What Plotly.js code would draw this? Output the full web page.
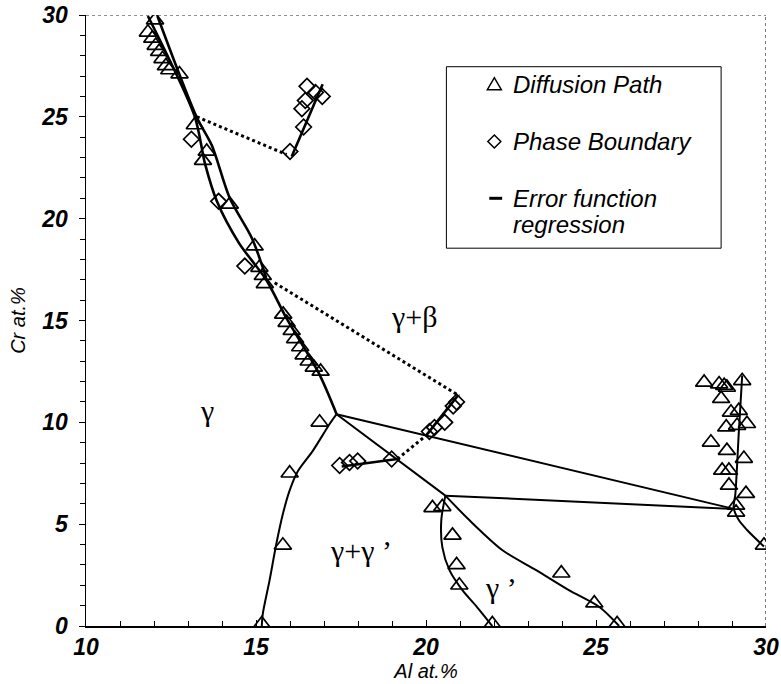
<!DOCTYPE html>
<html>
<head>
<meta charset="utf-8">
<script src="https://cdn.plot.ly/plotly-3.0.1.min.js"></script>
<style>html,body{margin:0;padding:0;background:#fff}</style>
</head>
<body>
<div id="chart" style="width:781px;height:684px"></div>
<script>
// ---- Diffusion path measurements (triangles) ----
const pathAl = [12.03, 11.82, 11.95, 12.05, 12.15, 12.25, 12.35, 12.45, 12.75,
  13.2, 13.55, 13.44, 14.23, 14.96, 15.1, 15.2, 15.26,
  15.8, 15.9, 16.05, 16.15, 16.3, 16.4, 16.55, 16.7, 16.9,
  16.87, 15.99, 15.79, 15.17,
  20.19, 20.48, 20.78, 20.9, 20.98, 21.95,
  23.98, 24.95, 25.62,
  28.18, 28.62, 28.77, 28.85, 29.3, 28.68, 28.97, 29.2, 28.83, 29.15, 29.44,
  28.38, 28.85, 29.35, 28.71, 28.91, 28.91, 29.41, 29.12, 29.12, 29.94];
const pathCr = [29.75, 29.15, 28.85, 28.5, 28.2, 27.85, 27.5, 27.3, 27.1,
  24.6, 23.3, 22.85, 20.7, 18.65, 17.6, 17.2, 16.8,
  15.3, 14.9, 14.5, 14.1, 13.7, 13.3, 13.0, 12.7, 12.5,
  10.0, 7.5, 3.96, 0.1,
  5.8, 5.85, 4.45, 3.0, 2.0, 0.1,
  2.59, 1.12, 0.1,
  11.96, 11.88, 11.8, 11.71, 12.04, 11.16, 10.49, 10.57, 9.76, 9.84, 9.93,
  9.02, 8.61, 8.22, 7.64, 7.64, 6.9, 6.5, 5.92, 5.58, 3.96];

// ---- Phase boundary measurements (diamonds) ----
const boundAl = [13.1, 13.9, 14.67,
  16.0, 16.4, 16.35, 16.45, 16.5, 16.75, 16.95,
  20.1, 20.25, 20.55, 20.8, 20.9,
  17.46, 17.75, 17.99, 18.99];
const boundCr = [23.9, 20.85, 17.67,
  23.3, 24.5, 25.4, 25.8, 26.5, 26.2, 26.0,
  9.55, 9.75, 10.0, 10.8, 11.0,
  7.88, 8.03, 8.1, 8.2];

// ---- Error function regression / phase boundary lines ----
const regAAl = [11.82, 13.2, 13.5, 13.85, 14.5, 15.3, 15.9, 16.85, 17.37];
const regACr = [29.95, 25.0, 22.7, 20.85, 18.8, 17.0, 15.1, 12.4, 10.4];
const regBAl = [12.1, 13.25, 13.7, 14.23, 14.88, 15.3];
const regBCr = [29.95, 25.0, 23.6, 21.0, 19.04, 17.1];
const gammaAl = [17.37, 17.17, 16.67, 16.23, 15.99, 15.79, 15.6, 15.4, 15.2, 15.17];
const gammaCr = [10.4, 9.93, 8.6, 7.6, 6.66, 5.5, 4.05, 2.25, 0.6, 0.0];
const tie1Al = [17.37, 29.05];
const tie1Cr = [10.4, 5.75];
const branchAl = [17.37, 20.57];
const branchCr = [10.4, 6.4];
const tie2Al = [20.57, 29.05];
const tie2Cr = [6.4, 5.75];
const gpAAl = [20.57, 20.45, 20.48, 20.69, 21.07, 21.5, 21.95];
const gpACr = [6.4, 5.2, 3.87, 2.74, 1.76, 0.93, 0.0];
const gpBAl = [20.57, 21.28, 22.25, 23.24, 24.2, 25.1, 25.68];
const gpBCr = [6.4, 5.19, 3.72, 2.74, 1.76, 0.93, 0.0];
const rightAl = [29.3, 29.2, 29.1, 29.05, 29.2, 29.45, 29.94];
const rightCr = [12.3, 9.5, 6.5, 5.8, 5.2, 4.7, 3.9];
const seg1Al = [16.05, 16.96];
const seg1Cr = [23.05, 26.6];
const seg2Al = [17.52, 19.16];
const seg2Cr = [7.83, 8.2];
const seg3Al = [20.0, 20.93];
const seg3Cr = [9.35, 11.3];
// ---- dotted connections ----
const dot1Al = [13.26, 15.9];
const dot1Cr = [25.0, 23.15];
const dot2Al = [15.55, 20.98];
const dot2Cr = [16.85, 11.3];
const dot3Al = [19.16, 20.0];
const dot3Cr = [8.2, 9.35];

// ---- tick labels ----
const xTicks = [10, 15, 20, 25, 30];
const yTicks = [0, 5, 10, 15, 20, 25, 30];

function line(x, y, w, shape, dash) {
  return {type: 'scatter', mode: 'lines', x: x, y: y, showlegend: false, hoverinfo: 'skip',
    line: {color: '#000', width: w, shape: shape || 'linear', smoothing: 0.8, dash: dash || 'solid'}};
}

const traces = [
  line(regAAl, regACr, 2.6, 'spline'),
  line(regBAl, regBCr, 2.6, 'spline'),
  line(gammaAl, gammaCr, 2, 'spline'),
  line(tie1Al, tie1Cr, 2),
  line(branchAl, branchCr, 2),
  line(tie2Al, tie2Cr, 2),
  line(gpAAl, gpACr, 2, 'spline'),
  line(gpBAl, gpBCr, 2, 'spline'),
  line(rightAl, rightCr, 2, 'spline'),
  line(seg1Al, seg1Cr, 2.6),
  line(seg2Al, seg2Cr, 2.6),
  line(seg3Al, seg3Cr, 2.6),
  line(dot1Al, dot1Cr, 3, 'linear', 'dot'),
  line(dot2Al, dot2Cr, 3, 'linear', 'dot'),
  line(dot3Al, dot3Cr, 3, 'linear', 'dot'),
  {type: 'scatter', mode: 'markers', x: pathAl, y: pathCr, showlegend: false,
    marker: {symbol: 'triangle-up-open', size: 15, color: '#000', line: {width: 1.7, color: '#000'}}},
  {type: 'scatter', mode: 'markers', x: boundAl, y: boundCr, showlegend: false,
    marker: {symbol: 'diamond-open', size: 12, color: '#000', line: {width: 1.7, color: '#000'}}}
];

const tickFont = {family: 'Liberation Sans, Arial, sans-serif', size: 23, weight: 'bold', style: 'italic', color: '#000'};
const titleFont = {family: 'Liberation Sans, Arial, sans-serif', size: 20, style: 'italic', color: '#000'};
const legFont = {family: 'Liberation Sans, Arial, sans-serif', size: 24, style: 'italic', color: '#000'};
const greekFont = {family: 'Liberation Serif, Times New Roman, serif', size: 30, color: '#000'};

const layout = {
  width: 781, height: 684,
  margin: {l: 86, r: 15, t: 15, b: 58},
  paper_bgcolor: '#fff', plot_bgcolor: '#fff',
  showlegend: false,
  xaxis: {range: [10, 30], tickvals: xTicks, ticktext: xTicks.map(String), showgrid: false, zeroline: false,
    showline: true, linecolor: '#000', linewidth: 1.5, ticks: 'inside', ticklen: 6, tickwidth: 1, tickcolor: '#000',
    minor: {dtick: 1, tick0: 10, ticks: 'inside', ticklen: 5, tickcolor: '#000', showgrid: false},
    tickfont: tickFont, fixedrange: true, ticklabelstandoff: 0,
    title: {text: 'Al at.%', font: titleFont, standoff: 0}},
  yaxis: {range: [0, 30], tickvals: yTicks, ticktext: yTicks.map(String), showgrid: false, zeroline: false,
    showline: true, linecolor: '#000', linewidth: 1.5, ticks: 'outside', ticklen: 6, tickwidth: 1, tickcolor: '#000',
    minor: {dtick: 1, tick0: 0, ticks: 'outside', ticklen: 5, tickcolor: '#000', showgrid: false},
    tickfont: tickFont, fixedrange: true, ticklabelstandoff: 6,
    title: {text: 'Cr at.%', font: titleFont, standoff: 10}},
  shapes: [
    {type: 'line', xref: 'x', yref: 'y', x0: 10, x1: 30, y0: 30, y1: 30, line: {color: '#222', width: 1.2, dash: 'dot'}},
    {type: 'line', xref: 'x', yref: 'y', x0: 30, x1: 30, y0: 0, y1: 30, line: {color: '#222', width: 1.2, dash: 'dot'}},
    {type: 'rect', xref: 'x', yref: 'y', x0: 20.6, x1: 28.68, y0: 18.55, y1: 27.46, line: {color: '#000', width: 1}, fillcolor: 'rgba(0,0,0,0)'},
    {type: 'path', xref: 'x', yref: 'y', xsizemode: 'pixel', ysizemode: 'pixel', xanchor: 22.01, yanchor: 26.58,
      path: 'M-7,-5 L7,-5 L0,7 Z', line: {color: '#000', width: 1.5}},
    {type: 'path', xref: 'x', yref: 'y', xsizemode: 'pixel', ysizemode: 'pixel', xanchor: 22.01, yanchor: 23.79,
      path: 'M-6.5,0 L0,6.5 L6.5,0 L0,-6.5 Z', line: {color: '#000', width: 1.5}},
    {type: 'line', xref: 'x', yref: 'y', x0: 21.86, x1: 22.24, y0: 21.0, y1: 21.0, line: {color: '#000', width: 3}}
  ],
  annotations: [
    {x: 22.51, y: 26.58, xref: 'x', yref: 'y', text: 'Diffusion Path', showarrow: false, xanchor: 'left', yanchor: 'middle', font: legFont},
    {x: 22.51, y: 23.79, xref: 'x', yref: 'y', text: 'Phase Boundary', showarrow: false, xanchor: 'left', yanchor: 'middle', font: legFont},
    {x: 22.51, y: 21.0, xref: 'x', yref: 'y', text: 'Error function', showarrow: false, xanchor: 'left', yanchor: 'middle', font: legFont},
    {x: 22.51, y: 19.73, xref: 'x', yref: 'y', text: 'regression', showarrow: false, xanchor: 'left', yanchor: 'middle', font: legFont},
    {x: 19.66, y: 15.2, xref: 'x', yref: 'y', text: 'γ+β', showarrow: false, font: greekFont},
    {x: 13.55, y: 10.6, xref: 'x', yref: 'y', text: 'γ', showarrow: false, font: greekFont},
    {x: 18.1, y: 3.7, xref: 'x', yref: 'y', text: 'γ+γ ’', showarrow: false, font: greekFont},
    {x: 22.2, y: 1.9, xref: 'x', yref: 'y', text: 'γ ’', showarrow: false, font: greekFont}
  ]
};

Plotly.newPlot('chart', traces, layout, {staticPlot: true, displayModeBar: false});
</script>
</body>
</html>
